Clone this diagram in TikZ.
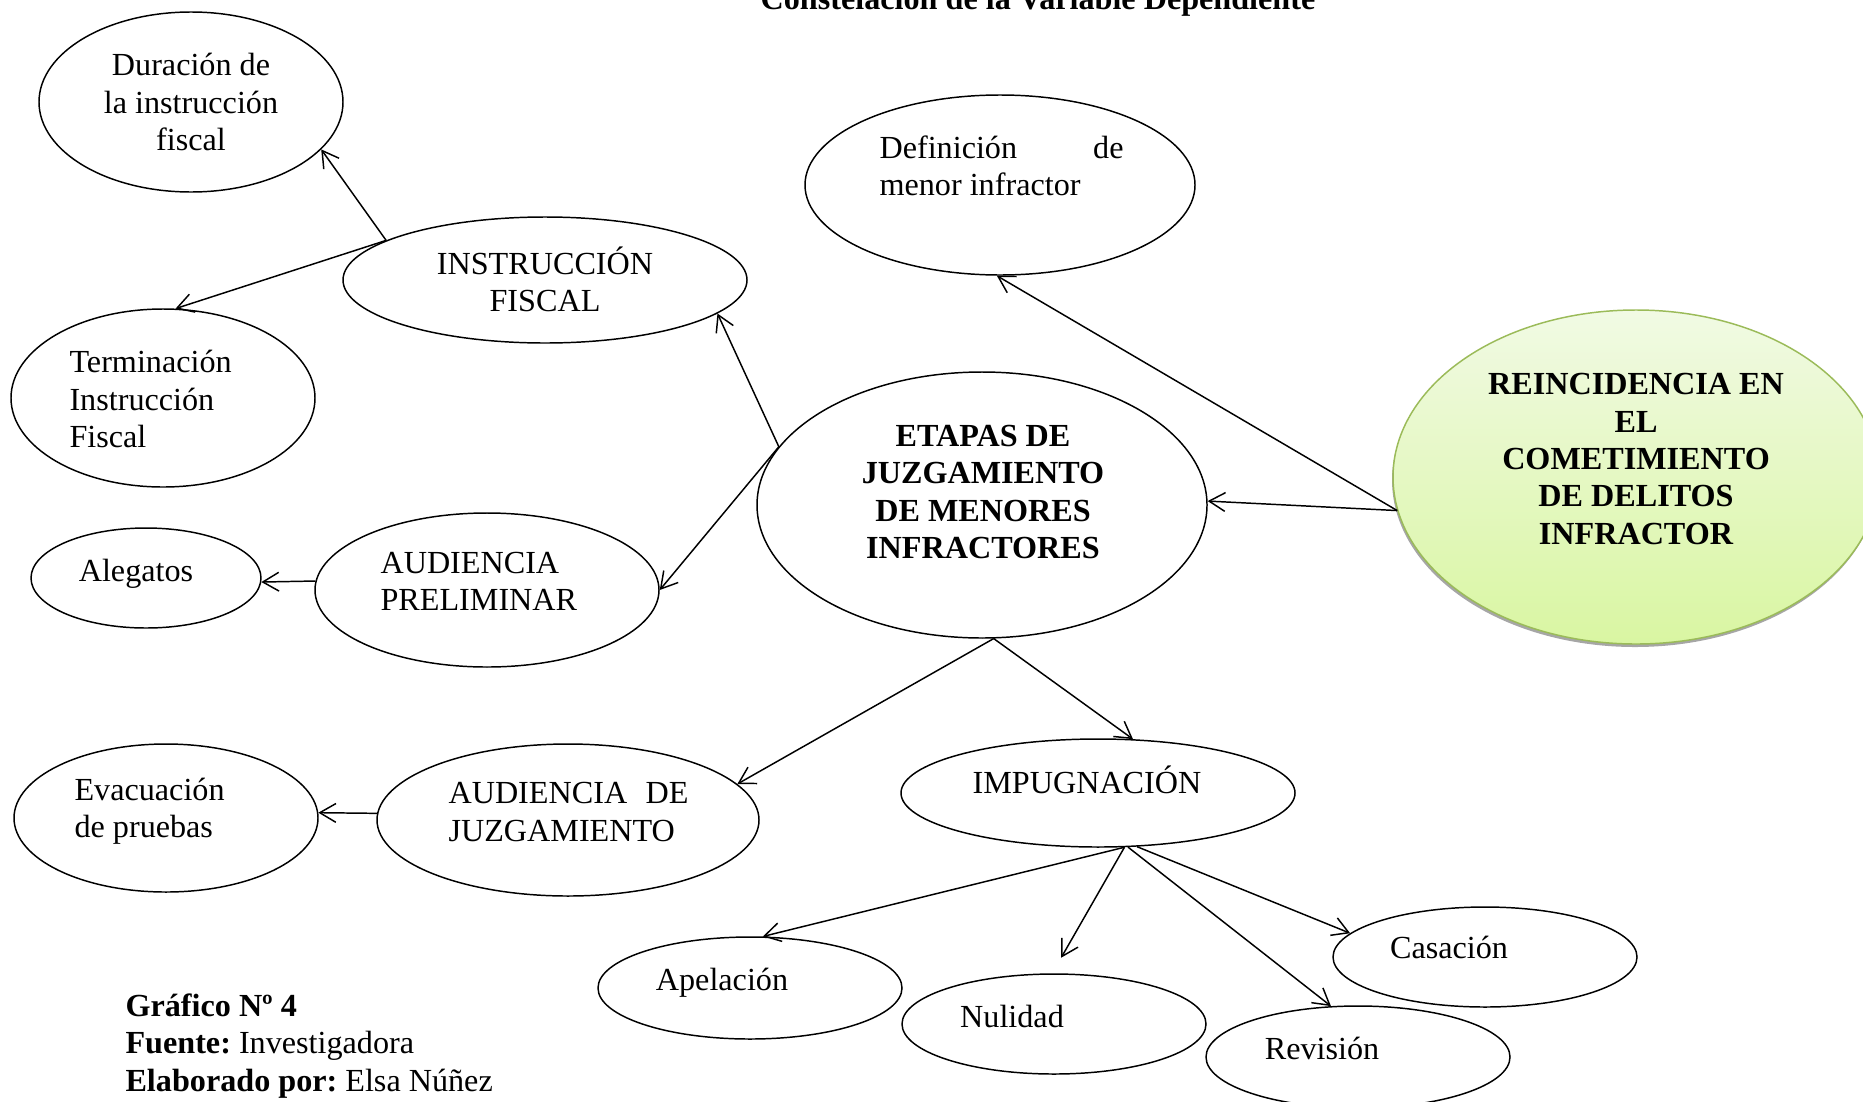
\documentclass[tikz,border=0pt]{standalone}
\usepackage{fontspec}
\setmainfont{Liberation Serif}
\usetikzlibrary{shapes.geometric,arrows.meta}
\definecolor{grnborder}{HTML}{9BBB59}
\definecolor{grntop}{HTML}{F1FAE4}
\definecolor{grnbot}{HTML}{D9F6A2}
\definecolor{shadowgray}{HTML}{A6A6A6}
\begin{document}
\begin{tikzpicture}[x=0.373pt,y=-0.373pt,
  ell/.style 2 args={ellipse,draw=black,line width=0.55pt,minimum width={#1*0.373pt},minimum height={#2*0.373pt},inner sep=0pt},
  txt/.style={inner sep=0pt,font=\fontsize{12}{13.9}\selectfont},
  btxt/.style={inner sep=0pt,font=\fontsize{12}{13.9}\selectfont\bfseries},
  arr/.style={-{Straight Barb[length=6pt,width=7pt]},line width=0.55pt}]
\path[use as bounding box] (0,0) rectangle (1863,1101);
\clip (0,0) rectangle (1863,1101);

% title (cut at top)
\node[btxt,anchor=base] (title) at (1038,9) {Constelación de la Variable Dependiente};

% ellipses
\node[ell={304}{180}] (dur) at (191,102) {};
\node[ell={390}{180}] (def) at (1000,185) {};
\node[ell={404}{126}] (instr) at (545,280) {};
\node[ell={304}{178}] (term) at (163,398) {};
\node[ell={450}{266}] (etapas) at (982,505) {};
\fill[shadowgray] (1635,480) ellipse [x radius=243, y radius=167];
\node[ell={486}{334},draw=grnborder,top color=grntop,bottom color=grnbot] (green) at (1636,477) {};
\node[ell={344}{154}] (prelim) at (487,590) {};
\node[ell={230}{100}] (aleg) at (146,578) {};
\node[ell={382}{152}] (juzg) at (568,820) {};
\node[ell={304}{148}] (evac) at (166,818) {};
\node[ell={394}{108}] (impug) at (1098,793) {};
\node[ell={304}{102}] (apel) at (750,988) {};
\node[ell={304}{100}] (nul) at (1054,1024) {};
\node[ell={304}{100}] (cas) at (1485,957) {};
\node[ell={304}{102}] (rev) at (1358,1057) {};

% texts
\node[txt,align=center] (durT) at (191,102) {Duración de\\la instrucción\\fiscal};
\node[txt,align=left,anchor=west] (defT) at (879,166) {\makebox[91pt][s]{Definición de}\\menor infractor};
\node[txt,align=center] (instrT) at (545,279) {INSTRUCCIÓN\\FISCAL};
\node[txt,align=left,anchor=west] (termT) at (69,399) {Terminación\\Instrucción\\Fiscal};
\node[btxt,align=center] (etapasT) at (983,492) {ETAPAS DE\\JUZGAMIENTO\\DE MENORES\\INFRACTORES};
\node[btxt,align=center] (greenT) at (1636,459) {REINCIDENCIA EN\\EL\\COMETIMIENTO\\DE DELITOS\\INFRACTOR};
\node[txt,align=left,anchor=west] (prelimT) at (380,581) {AUDIENCIA\\PRELIMINAR};
\node[txt,anchor=base] (alegT) at (136,581) {Alegatos};
\node[txt,align=left,anchor=west] (juzgT) at (448,812) {\makebox[89.5pt][s]{AUDIENCIA DE}\\JUZGAMIENTO};
\node[txt,align=left,anchor=west] (evacT) at (74,811) {Evacuación\\de pruebas};
\node[txt,anchor=base] (impugT) at (1087,793) {IMPUGNACIÓN};
\node[txt,anchor=base] (apelT) at (722,990) {Apelación};
\node[txt,anchor=base] (nulT) at (1012,1027) {Nulidad};
\node[txt,anchor=base] (casT) at (1449,958) {Casación};
\node[txt,anchor=base] (revT) at (1322,1059) {Revisión};
\node[txt,align=left,anchor=west] (foot) at (125,1046) {\textbf{Gráfico Nº 4}\\\textbf{Fuente:}~Investigadora\\\textbf{Elaborado por:}~Elsa Núñez};

% connectors
\draw[arr] (instr.166) -- (dur.-20);
\draw[arr] (instr.166) -- (term.82);
\draw[arr] (etapas.164) -- (instr.-11);
\draw[arr] (etapas.164) -- (prelim.east);
\draw[arr] (prelim.177) -- (aleg.-2);
\draw[arr] (etapas.-85) -- (juzg.12);
\draw[arr] (etapas.-85) -- (impug.57);
\draw[arr] (juzg.178) -- (evac.2);
\draw[arr] (impug.-64) -- (apel.76);
\draw[arr,shorten >=6.7pt] (impug.-64) -- (nul.92);
\draw[arr] (impug.-54) -- (cas.170);
\draw[arr] (impug.-61) -- (rev.118);
\draw[arr] (green.188) -- (etapas.1);
\draw[arr] (green.188) -- (def.-92);
\end{tikzpicture}
\end{document}
